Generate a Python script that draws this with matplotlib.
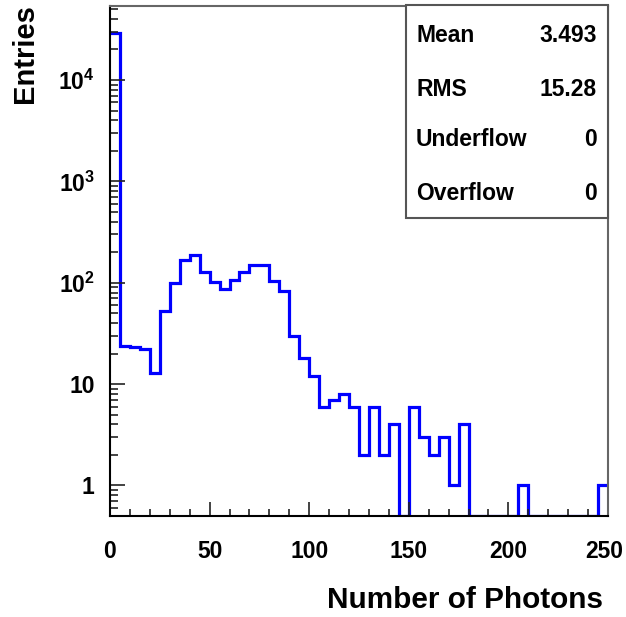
import numpy as np
import matplotlib
matplotlib.use("Agg")
import matplotlib.pyplot as plt
import matplotlib.transforms as mtransforms
from matplotlib.patches import Rectangle
from matplotlib.ticker import FixedLocator, FuncFormatter, LogLocator, MultipleLocator

plt.rcParams['font.family'] = ['Liberation Sans', 'DejaVu Sans']
plt.rcParams['font.weight'] = 'bold'
plt.rcParams['mathtext.fontset'] = 'custom'
plt.rcParams['mathtext.rm'] = 'Liberation Sans:bold'
plt.rcParams['mathtext.it'] = 'Liberation Sans:bold'
plt.rcParams['mathtext.bf'] = 'Liberation Sans:bold'

# histogram: 50 bins of width 5 from 0 to 250
bin_edges = np.arange(0, 255, 5)
counts = [29000, 24, 23, 22, 13, 53, 100, 168, 187, 127,
          102, 86, 106, 128, 150, 148, 104, 83, 30, 18,
          12, 6, 7, 8, 6, 2, 6, 2, 4, 0,
          6, 3, 2, 3, 1, 4, 0, 0, 0, 0,
          0, 1, 0, 0, 0, 0, 0, 0, 0, 1]

stat_names = ["Mean", "RMS", "Underflow", "Overflow"]
stat_values = ["3.493", "15.28", "0", "0"]

y_min, y_max = 0.5, 53700

fig = plt.figure(figsize=(6.26, 6.17), dpi=100)
ax = fig.add_axes([110 / 626, 1 - 516 / 617, 498 / 626, 510 / 617])

# empty bins are drawn along the bottom edge, like ROOT does
shown = np.where(np.array(counts) > 0, counts, y_min)
ax.stairs(shown, bin_edges, color='#0000ff', lw=2.3, baseline=None)

ax.set_yscale('log')
ax.set_xlim(0, 250)
ax.set_ylim(y_min, y_max)

ax.xaxis.set_major_locator(MultipleLocator(50))
ax.xaxis.set_minor_locator(MultipleLocator(10))
ax.yaxis.set_major_locator(FixedLocator([1, 10, 100, 1000, 10000]))
ax.yaxis.set_minor_locator(LogLocator(base=10, subs=np.arange(2, 10)))


def ylab(v, pos):
    if v < 5:
        return "1"
    if v < 50:
        return "10"
    return r"$10^{%d}$" % int(round(np.log10(v)))


ax.yaxis.set_major_formatter(FuncFormatter(ylab))
ax.yaxis.set_minor_formatter(FuncFormatter(lambda v, p: ""))

ax.tick_params(axis='both', which='both', direction='in', top=False, right=False,
               labelsize=16.5, color='#222222')
ax.tick_params(axis='x', which='major', length=10, width=1.2, pad=17)
ax.tick_params(axis='x', which='minor', length=5, width=1.2)
ax.tick_params(axis='y', which='major', length=11, width=1.2, pad=11)
ax.tick_params(axis='y', which='minor', length=6, width=1.2)
for lab in ax.get_xticklabels() + ax.get_yticklabels():
    lab.set_fontweight('bold')

# keep the last x label inside the picture
fig.canvas.draw()
last = [t for t in ax.get_xticklabels() if t.get_text() == "250"]
for t in last:
    t.set_transform(t.get_transform() +
                    mtransforms.ScaledTranslation(-4 / 100, 0, fig.dpi_scale_trans))

for side in ['left', 'bottom']:
    ax.spines[side].set_color('black')
    ax.spines[side].set_linewidth(1.5)
for side in ['top', 'right']:
    ax.spines[side].set_color('#666666')
    ax.spines[side].set_linewidth(1.5)

fig.text(25 / 626, 1 - 4 / 617, "Entries", rotation=90, ha='center', va='top',
         fontsize=21, fontweight='bold')
fig.text(603 / 626, 1 - 600 / 617, "Number of Photons", ha='right', va='center',
         fontsize=21.4, fontweight='bold')

# statistics box
fig.patches.append(Rectangle((406 / 626, 1 - 218 / 617), 202 / 626, 213 / 617,
                             transform=fig.transFigure, facecolor='white',
                             edgecolor='#555555', lw=1.5, zorder=5))
row_y = [35, 89, 139, 193]
for name, val, yy in zip(stat_names, stat_values, row_y):
    fig.text(416 / 626, 1 - yy / 617, name, ha='left', va='center',
             fontsize=16.5, fontweight='bold', zorder=6)
    fig.text(597 / 626, 1 - yy / 617, val, ha='right', va='center',
             fontsize=16.5, fontweight='bold', zorder=6)

fig.savefig("out.png", dpi=100)
